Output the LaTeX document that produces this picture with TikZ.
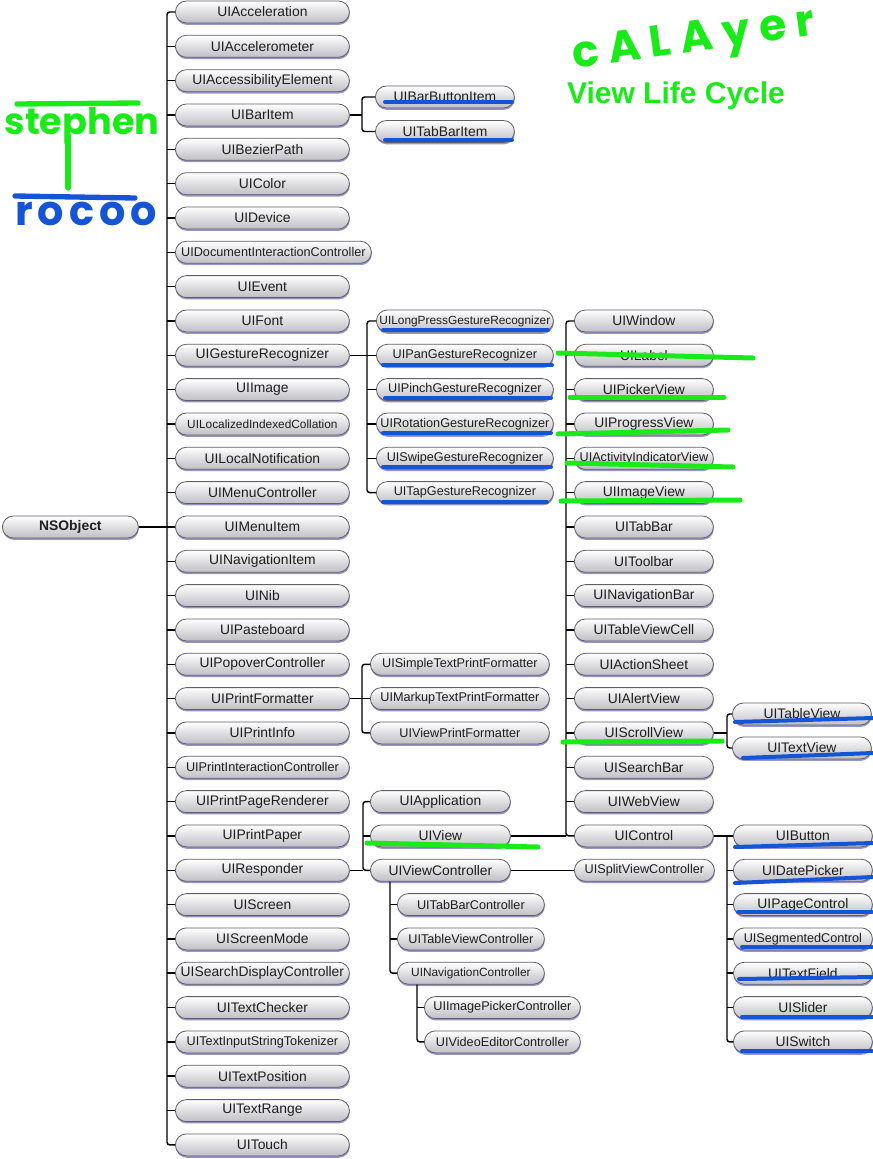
\documentclass[tikz,border=0pt]{standalone}
\usepackage{fontspec}
\usetikzlibrary{shadows}
\newfontfamily\clsfamily{Liberation Sans}
\newfontfamily\handfamily{Poppins}
\newcommand\clsfont{\clsfamily\fontsize{10.4}{12}\selectfont}
\newcommand\clssmall{\clsfamily\fontsize{9.5}{11}\selectfont}
\newcommand\clstiny{\clsfamily\fontsize{8.9}{10}\selectfont}
\definecolor{clsline}{RGB}{95,95,105}
\definecolor{clsgrey}{RGB}{190,190,196}
\definecolor{clsshadow}{RGB}{150,150,205}
\definecolor{clstext}{RGB}{30,30,30}
\definecolor{markgreen}{RGB}{25,235,25}
\definecolor{markblue}{RGB}{20,85,215}
\tikzset{
  cls/.style={draw=clsline, line width=0.6pt, rounded corners=8.25pt,
    top color=white, bottom color=clsgrey, text=clstext,
    minimum height=16.5pt, minimum width=#1, inner xsep=1pt, inner ysep=0pt,
    anchor=west, font=\clsfont,
    drop shadow={shadow xshift=0.3pt, shadow yshift=-1.4pt, fill=clsshadow, opacity=1}},
  cls/.default=130.5pt,
  link/.style={draw=black, line width=1.1pt, rounded corners=2pt},
  greenmark/.style={draw=markgreen, line width=3.75pt, line cap=round},
  bluemark/.style={draw=markblue, line width=3pt, line cap=round},
}
\begin{document}
\begin{tikzpicture}[x=0.75pt,y=0.75pt,yscale=-1,xscale=1]
\useasboundingbox[fill=white] (0,0) rectangle (873,1159);

% Root
\node [cls=102pt, font=\clsfamily\bfseries\fontsize{10.4}{12}\selectfont] (NSObject) at (2,527) {NSObject};

% First column
\node [cls] (UIAcceleration) at (175,12) {UIAcceleration};
\node [cls] (UIAccelerometer) at (175,46.3) {UIAccelerometer};
\node [cls] (UIAccessibilityElement) at (175,80.7) {UIAccessibilityElement};
\node [cls] (UIBarItem) at (175,115) {UIBarItem};
\node [cls] (UIBezierPath) at (175,149.3) {UIBezierPath};
\node [cls] (UIColor) at (175,183.7) {UIColor};
\node [cls] (UIDevice) at (175,218) {UIDevice};
\node [cls=147pt, font=\clssmall] (UIDocumentInteractionController) at (175,252.3) {UIDocumentInteractionController};
\node [cls] (UIEvent) at (175,286.6) {UIEvent};
\node [cls] (UIFont) at (175,321) {UIFont};
\node [cls] (UIGestureRecognizer) at (175,355.3) {UIGestureRecognizer};
\node [cls] (UIImage) at (175,389.6) {UIImage};
\node [cls, font=\clstiny] (UILocalizedIndexedCollation) at (175,424) {UILocalizedIndexedCollation};
\node [cls] (UILocalNotification) at (175,458.3) {UILocalNotification};
\node [cls] (UIMenuController) at (175,492.6) {UIMenuController};
\node [cls] (UIMenuItem) at (175,527) {UIMenuItem};
\node [cls] (UINavigationItem) at (175,561.3) {UINavigationItem};
\node [cls] (UINib) at (175,595.6) {UINib};
\node [cls] (UIPasteboard) at (175,630) {UIPasteboard};
\node [cls] (UIPopoverController) at (175,664.3) {UIPopoverController};
\node [cls] (UIPrintFormatter) at (175,698.6) {UIPrintFormatter};
\node [cls] (UIPrintInfo) at (175,732.9) {UIPrintInfo};
\node [cls, font=\clssmall] (UIPrintInteractionController) at (175,767.3) {UIPrintInteractionController};
\node [cls] (UIPrintPageRenderer) at (175,801.6) {UIPrintPageRenderer};
\node [cls] (UIPrintPaper) at (175,835.9) {UIPrintPaper};
\node [cls] (UIResponder) at (175,870.3) {UIResponder};
\node [cls] (UIScreen) at (175,904.6) {UIScreen};
\node [cls] (UIScreenMode) at (175,938.9) {UIScreenMode};
\node [cls] (UISearchDisplayController) at (175,973.2) {UISearchDisplayController};
\node [cls] (UITextChecker) at (175,1007.6) {UITextChecker};
\node [cls, font=\clssmall] (UITextInputStringTokenizer) at (175,1041.9) {UITextInputStringTokenizer};
\node [cls] (UITextPosition) at (175,1076.2) {UITextPosition};
\node [cls] (UITextRange) at (175,1110.6) {UITextRange};
\node [cls] (UITouch) at (175,1144.9) {UITouch};

% UIBarItem subclasses
\node [cls=104.25pt] (UIBarButtonItem) at (375,97) {UIBarButtonItem};
\node [cls=104.25pt] (UITabBarItem) at (375,131.5) {UITabBarItem};

% UIGestureRecognizer subclasses
\node [cls=132.75pt, font=\clstiny] (UILongPressGestureRecognizer) at (376,321) {UILongPressGestureRecognizer};
\node [cls=132.75pt, font=\clssmall] (UIPanGestureRecognizer) at (376,355.3) {UIPanGestureRecognizer};
\node [cls=132.75pt, font=\clssmall] (UIPinchGestureRecognizer) at (376,389.6) {UIPinchGestureRecognizer};
\node [cls=132.75pt, font=\clssmall] (UIRotationGestureRecognizer) at (376,424) {UIRotationGestureRecognizer};
\node [cls=132.75pt, font=\clssmall] (UISwipeGestureRecognizer) at (376,458.3) {UISwipeGestureRecognizer};
\node [cls=132.75pt, font=\clssmall] (UITapGestureRecognizer) at (376,492.6) {UITapGestureRecognizer};

% UIPrintFormatter subclasses
\node [cls=134.25pt, font=\clssmall] (UISimpleTextPrintFormatter) at (370,664.3) {UISimpleTextPrintFormatter};
\node [cls=134.25pt, font=\clssmall] (UIMarkupTextPrintFormatter) at (370,698.6) {UIMarkupTextPrintFormatter};
\node [cls=134.25pt, font=\clssmall] (UIViewPrintFormatter) at (370,732.9) {UIViewPrintFormatter};

% UIResponder subclasses
\node [cls=105pt] (UIApplication) at (370,801.6) {UIApplication};
\node [cls=105pt] (UIView) at (370,835.9) {UIView};
\node [cls=105pt] (UIViewController) at (370,870.3) {UIViewController};

% UIViewController subclasses
\node [cls=110.25pt, font=\clssmall] (UITabBarController) at (397,904.6) {UITabBarController};
\node [cls=110.25pt, font=\clssmall] (UITableViewController) at (397,938.9) {UITableViewController};
\node [cls=110.25pt, font=\clstiny] (UINavigationController) at (397,973.2) {UINavigationController};
\node [cls=117pt, font=\clssmall] (UIImagePickerController) at (424,1007.6) {UIImagePickerController};
\node [cls=117pt, font=\clssmall] (UIVideoEditorController) at (424,1041.9) {UIVideoEditorController};
\node [cls=105pt, font=\clssmall] (UISplitViewController) at (574,870.3) {UISplitViewController};

% UIView subclasses
\node [cls=104.25pt] (UIWindow) at (574,321) {UIWindow};
\node [cls=104.25pt] (UILabel) at (574,355.3) {UILabel};
\node [cls=104.25pt] (UIPickerView) at (574,389.6) {UIPickerView};
\node [cls=104.25pt] (UIProgressView) at (574,424) {UIProgressView};
\node [cls=104.25pt, font=\clssmall] (UIActivityIndicatorView) at (574,458.3) {UIActivityIndicatorView};
\node [cls=104.25pt] (UIImageView) at (574,492.6) {UIImageView};
\node [cls=104.25pt] (UITabBar) at (574,527) {UITabBar};
\node [cls=104.25pt] (UIToolbar) at (574,561.3) {UIToolbar};
\node [cls=104.25pt] (UINavigationBar) at (574,595.6) {UINavigationBar};
\node [cls=104.25pt] (UITableViewCell) at (574,630) {UITableViewCell};
\node [cls=104.25pt] (UIActionSheet) at (574,664.3) {UIActionSheet};
\node [cls=104.25pt] (UIAlertView) at (574,698.6) {UIAlertView};
\node [cls=104.25pt] (UIScrollView) at (574,732.9) {UIScrollView};
\node [cls=104.25pt] (UISearchBar) at (574,767.3) {UISearchBar};
\node [cls=104.25pt] (UIWebView) at (574,801.6) {UIWebView};
\node [cls=104.25pt] (UIControl) at (574,835.9) {UIControl};

% UIScrollView and UIControl subclasses
\node [cls=104.25pt] (UITableView) at (732,714) {UITableView};
\node [cls=104.25pt] (UITextView) at (732,748) {UITextView};
\node [cls=104.25pt] (UIButton) at (733,835.9) {UIButton};
\node [cls=104.25pt] (UIDatePicker) at (733,870.3) {UIDatePicker};
\node [cls=104.25pt] (UIPageControl) at (733,904.6) {UIPageControl};
\node [cls=104.25pt, font=\clssmall] (UISegmentedControl) at (733,938.9) {UISegmentedControl};
\node [cls=104.25pt] (UITextField) at (733,973.2) {UITextField};
\node [cls=104.25pt] (UISlider) at (733,1007.6) {UISlider};
\node [cls=104.25pt] (UISwitch) at (733,1041.9) {UISwitch};

% Connectors
\coordinate (bus0) at (167,0);
\draw [link] (NSObject.east) -- (NSObject.east -| bus0);
\draw [link] (UIAcceleration.west) -- (UIAcceleration.west -| bus0) -- (UITouch.west -| bus0) -- (UITouch.west);
\foreach \n in {UIAccelerometer,UIAccessibilityElement,UIBarItem,UIBezierPath,UIColor,UIDevice,UIDocumentInteractionController,UIEvent,UIFont,UIGestureRecognizer,UIImage,UILocalizedIndexedCollation,UILocalNotification,UIMenuController,UIMenuItem,UINavigationItem,UINib,UIPasteboard,UIPopoverController,UIPrintFormatter,UIPrintInfo,UIPrintInteractionController,UIPrintPageRenderer,UIPrintPaper,UIResponder,UIScreen,UIScreenMode,UISearchDisplayController,UITextChecker,UITextInputStringTokenizer,UITextPosition,UITextRange}
  \draw [link] (\n.west -| bus0) -- (\n.west);

\coordinate (busbar) at (362,0);
\draw [link] (UIBarItem.east) -- (UIBarItem.east -| busbar);
\draw [link] (UIBarButtonItem.west) -- (UIBarButtonItem.west -| busbar) -- (UITabBarItem.west -| busbar) -- (UITabBarItem.west);

\coordinate (busgesture) at (367,0);
\draw [link] (UIGestureRecognizer.east) -- (UIGestureRecognizer.east -| busgesture);
\draw [link] (UILongPressGestureRecognizer.west) -- (UILongPressGestureRecognizer.west -| busgesture) -- (UITapGestureRecognizer.west -| busgesture) -- (UITapGestureRecognizer.west);
\foreach \n in {UIPanGestureRecognizer,UIPinchGestureRecognizer,UIRotationGestureRecognizer,UISwipeGestureRecognizer}
  \draw [link] (\n.west -| busgesture) -- (\n.west);

\coordinate (busprint) at (362,0);
\draw [link] (UIPrintFormatter.east) -- (UIPrintFormatter.east -| busprint);
\draw [link] (UISimpleTextPrintFormatter.west) -- (UISimpleTextPrintFormatter.west -| busprint) -- (UIViewPrintFormatter.west -| busprint) -- (UIViewPrintFormatter.west);
\draw [link] (UIMarkupTextPrintFormatter.west -| busprint) -- (UIMarkupTextPrintFormatter.west);

\coordinate (busresponder) at (363,0);
\draw [link] (UIResponder.east) -- (UIResponder.east -| busresponder);
\draw [link] (UIApplication.west) -- (UIApplication.west -| busresponder) -- (UIViewController.west -| busresponder) -- (UIViewController.west);
\draw [link] (UIView.west -| busresponder) -- (UIView.west);

\coordinate (busvc) at (390,0);
\draw [link] (UIViewController.south -| busvc) -- (UINavigationController.west -| busvc) -- (UINavigationController.west);
\draw [link] (UITabBarController.west -| busvc) -- (UITabBarController.west);
\draw [link] (UITableViewController.west -| busvc) -- (UITableViewController.west);
\draw [link] (UIViewController.east) -- (UISplitViewController.west);

\coordinate (busnav) at (417,0);
\draw [link] (UINavigationController.south -| busnav) -- (UIVideoEditorController.west -| busnav) -- (UIVideoEditorController.west);
\draw [link] (UIImagePickerController.west -| busnav) -- (UIImagePickerController.west);

\coordinate (busview) at (566,0);
\draw [link] (UIView.east) -- (UIView.east -| busview);
\draw [link] (UIWindow.west) -- (UIWindow.west -| busview) -- (UIControl.west -| busview) -- (UIControl.west);
\foreach \n in {UILabel,UIPickerView,UIProgressView,UIActivityIndicatorView,UIImageView,UITabBar,UIToolbar,UINavigationBar,UITableViewCell,UIActionSheet,UIAlertView,UIScrollView,UISearchBar,UIWebView}
  \draw [link] (\n.west -| busview) -- (\n.west);

\coordinate (busscroll) at (727,0);
\draw [link] (UIScrollView.east) -- (UIScrollView.east -| busscroll);
\draw [link] (UITableView.west) -- (UITableView.west -| busscroll) -- (UITextView.west -| busscroll) -- (UITextView.west);

\coordinate (buscontrol) at (727,0);
\draw [link] (UIControl.east) -- (UIButton.west);
\draw [link] (UIControl.east -| buscontrol) -- (UISwitch.west -| buscontrol) -- (UISwitch.west);
\foreach \n in {UIDatePicker,UIPageControl,UISegmentedControl,UITextField,UISlider}
  \draw [link] (\n.west -| buscontrol) -- (\n.west);

% Handwritten notes
\node [text=markgreen, font=\handfamily\bfseries\fontsize{27.5}{28}\selectfont, inner sep=0pt] (stephen) at (82,126) {stephen};
\draw [greenmark, line width=4pt] (17,104) -- (138,103);
\draw [greenmark, line width=4pt] (68,136) -- (68,188);
\draw [bluemark, line width=4pt] (15,196) -- (135,198);
\node [text=markblue, font=\handfamily\bfseries\fontsize{31}{31}\selectfont\addfontfeature{LetterSpace=12}, inner sep=0pt] (rocoo) at (86,214) {rocoo};
\node [text=markgreen, font=\handfamily\bfseries\fontsize{33}{33}\selectfont\addfontfeature{LetterSpace=22}, inner sep=0pt, rotate=8] (calayer) at (694,42) {cALAyer};
\node [text=markgreen, font=\clsfamily\bfseries\fontsize{22.5}{25}\selectfont, inner sep=0pt] (lifecycle) at (676,96) {View Life Cycle};

% Strike-throughs
\draw [greenmark] (558,353) -- (753,358);
\draw [greenmark] (570,397) -- (724,397);
\draw [greenmark] (558,434) -- (728,430);
\draw [greenmark] (567,463) -- (733,467);
\draw [greenmark] (561,501) -- (740,500);
\draw [greenmark] (563,742) -- (722,741);
\draw [greenmark] (367,843) -- (538,847);

% Underlines
\draw [bluemark] (385,102) -- (512,102);
\draw [bluemark] (385,140) -- (512,140);
\draw [bluemark] (383,330) -- (548,330);
\draw [bluemark] (383,365) -- (552,365);
\draw [bluemark] (385,398) -- (551,398);
\draw [bluemark] (383,433) -- (551,433);
\draw [bluemark] (383,467) -- (551,467);
\draw [bluemark] (383,502) -- (547,502);
\draw [bluemark] (735,722) -- (873,718);
\draw [bluemark] (743,758) -- (873,753);
\draw [bluemark] (735,847) -- (873,843);
\draw [bluemark] (735,883) -- (873,877);
\draw [bluemark] (738,912) -- (872,912);
\draw [bluemark] (742,947) -- (872,947);
\draw [bluemark] (739,979) -- (873,977);
\draw [bluemark] (742,1017) -- (873,1017);
\draw [bluemark] (742,1051) -- (872,1051);

\end{tikzpicture}
\end{document}
